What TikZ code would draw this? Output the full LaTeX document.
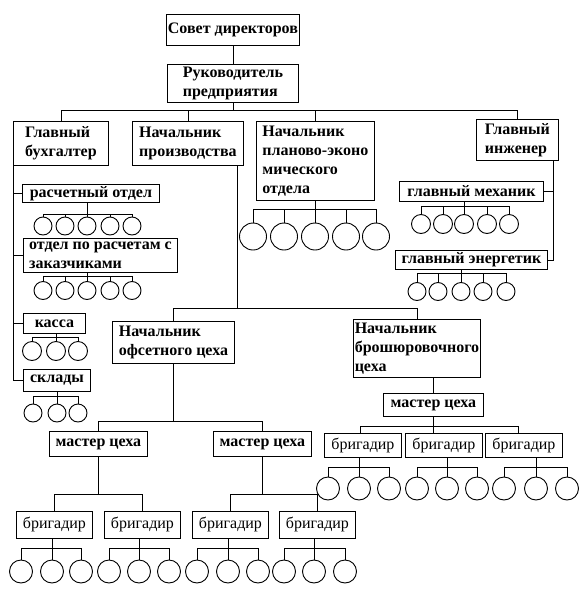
\documentclass[tikz,border=0pt]{standalone}
\usepackage{fontspec}
\setmainfont{Liberation Serif}
\tikzstyle{post} = [rectangle, draw, anchor=north west, inner sep=0pt, align=left, font=\fontsize{16}{19}\selectfont\bfseries]
\tikzstyle{crew} = [rectangle, draw, anchor=north west, inner sep=0pt, font=\fontsize{16}{19}\selectfont]
\tikzstyle{hand} = [circle, draw, inner sep=0pt]

\begin{document}
\begin{tikzpicture}[x=1pt, y=-1pt, line width=0.9pt]
	\path[use as bounding box, fill=white] (0,0) rectangle (586,592);

	% management
	\node (Board) [post, minimum width=133pt, minimum height=31pt] at (166,14) {Совет директоров};
	\node (Head) [post, minimum width=131pt, minimum height=38pt] at (167,64) {Руководитель\\предприятия};
	\node (Account) [post, minimum width=95pt, minimum height=44pt] at (13,121) {Главный\\бухгалтер};
	\node (Prod) [post, minimum width=111pt, minimum height=44pt] at (132,121) {Начальник\\производства};
	\node (Plan) [post, minimum width=118pt, minimum height=79pt] at (256,121) {Начальник\\планово-эконо\\мического\\отдела};
	\node (Engineer) [post, minimum width=82pt, minimum height=41pt] at (476,119) {Главный\\инженер};

	% departments
	\node (Pay) [post, minimum width=137pt, minimum height=18pt] at (22,184) {расчетный отдел};
	\node (Client) [post, minimum width=154pt, minimum height=34pt] at (23,238) {отдел по расчетам с\\заказчиками};
	\node (Cash) [post, minimum width=62pt, minimum height=20pt] at (23,313) {касса};
	\node (Store) [post, minimum width=67pt, minimum height=22pt] at (23,369) {склады};
	\node (Mech) [post, minimum width=144pt, minimum height=20pt] at (399,181) {главный механик};
	\node (Power) [post, minimum width=152pt, minimum height=19pt] at (395,250) {главный энергетик};

	% shops
	\node (Offset) [post, minimum width=122pt, minimum height=42pt] at (112,321) {Начальник\\офсетного цеха};
	\node (Bind) [post, minimum width=127pt, minimum height=58pt] at (353,319) {Начальник\\брошюровочного\\цеха};
	\node (OMaster1) [post, minimum width=98pt, minimum height=25pt] at (49,431) {мастер цеха};
	\node (OMaster2) [post, minimum width=98pt, minimum height=25pt] at (213,431) {мастер цеха};
	\node (BMaster) [post, minimum width=100pt, minimum height=23pt] at (383,393) {мастер цеха};
	\foreach \x [count=\i] in {16,104,192,279}
		\node (OFore\i) [crew, minimum width=76pt, minimum height=27pt] at (\x,511) {бригадир};
	\foreach \x [count=\i] in {324,405,485}
		\node (BFore\i) [crew, minimum width=77pt, minimum height=24pt] at (\x,433) {бригадир};

	% staff circles
	\foreach \x [count=\i] in {43,65,87,110,132} {
		\node (PayW\i) [hand, minimum size=18pt] at (\x,226) {};
		\node (ClientW\i) [hand, minimum size=18pt] at (\x,290.5) {};
	}
	\foreach \x [count=\i] in {32,56,78}
		\node (CashW\i) [hand, minimum size=19pt] at (\x,351) {};
	\foreach \x [count=\i] in {33,57,78}
		\node (StoreW\i) [hand, minimum size=18pt] at (\x,413) {};
	\foreach \x [count=\i] in {253,284,315,346,376}
		\node (PlanW\i) [hand, minimum size=27pt] at (\x,236.5) {};
	\foreach \x [count=\i] in {421,443,464,487,509}
		\node (MechW\i) [hand, minimum size=19pt] at (\x,224) {};
	\foreach \x [count=\i] in {417,438,461,483,506}
		\node (PowerW\i) [hand, minimum size=18pt] at (\x,291.5) {};
	\foreach \g/\xa/\xb/\xc in {a/21/52/81, b/109/139/169, c/197/228/258, d/284/314/345} {
		\node (O\g W1) [hand, minimum size=23pt] at (\xa,571.5) {};
		\node (O\g W2) [hand, minimum size=23pt] at (\xb,571.5) {};
		\node (O\g W3) [hand, minimum size=23pt] at (\xc,571.5) {};
	}
	\foreach \g/\xa/\xb/\xc in {a/328/359/389, b/417/447/477, c/504/536/567} {
		\node (B\g W1) [hand, minimum size=23pt] at (\xa,488.5) {};
		\node (B\g W2) [hand, minimum size=23pt] at (\xb,488.5) {};
		\node (B\g W3) [hand, minimum size=23pt] at (\xc,488.5) {};
	}

	% staff buses
	\foreach \grp/\boss/\n/\mid/\bus in {PayW/Pay/5/3/214, ClientW/Client/5/3/276, CashW/Cash/3/2/337, StoreW/Store/3/2/396, PlanW/Plan/5/3/209, MechW/Mech/5/3/206, PowerW/Power/5/3/273, OaW/OFore1/3/2/548, ObW/OFore2/3/2/548, OcW/OFore3/3/2/548, OdW/OFore4/3/2/548, BaW/BFore1/3/2/467, BbW/BFore2/3/2/467, BcW/BFore3/3/2/467} {
		\foreach \i in {1,...,\n}
			\draw (\grp\i.north) -- (\grp\i.north |- 0,\bus);
		\draw (\grp1.north |- 0,\bus) -- (\grp\n.north |- 0,\bus);
		\draw (\boss.south -| \grp\mid) -- (\grp\mid.north);
	}

	% main lines
	\coordinate (TopBus) at (0,110);
	\draw (Board) -- (Head);
	\draw (Head) -- (Head |- TopBus);
	\draw (Account) |- (Engineer |- TopBus) -- (Engineer);
	\draw (Prod) -- (Prod |- TopBus);
	\draw (Plan) -- (Plan |- TopBus);

	\draw (Account.south west) |- (Store.west);
	\foreach \d in {Pay, Client, Cash}
		\draw (\d.west) -- (\d.west -| Account.west);

	\coordinate (EngLine) at ([xshift=-5pt]Engineer.south east);
	\draw (EngLine) |- (Power.east);
	\draw (Mech.east) -- (Mech.east -| EngLine);

	\coordinate (ProdLine) at ([xshift=-6pt]Prod.south east);
	\coordinate (ShopBus) at (0,308);
	\draw (ProdLine) -- (ProdLine |- ShopBus);
	\draw (Offset) |- (Bind |- ShopBus) -- (Bind);

	\coordinate (OBus) at (0,421);
	\draw (Offset) -- (Offset |- OBus);
	\draw (OMaster1) |- (OMaster2 |- OBus) -- (OMaster2);

	\coordinate (OFBus) at (0,494);
	\draw (OMaster1) -- (OMaster1 |- OFBus);
	\draw (OFore1) |- (OFore2 |- OFBus) -- (OFore2);
	\draw (OMaster2) -- (OMaster2 |- OFBus);
	\draw (OFore3) |- (OFore4 |- OFBus) -- (OFore4);

	\coordinate (BFBus) at (0,426);
	\draw (BMaster) -- (BMaster |- Bind.south);
	\draw (BMaster) -- (BMaster |- BFore2.north);
	\draw ([xshift=-3pt]BFore1.north) |- ([xshift=-6pt]BFore3.north |- BFBus) -- ([xshift=-6pt]BFore3.north);
\end{tikzpicture}
\end{document}
